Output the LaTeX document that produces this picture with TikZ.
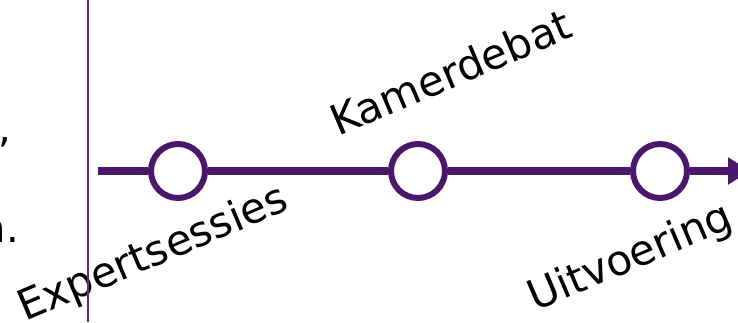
\documentclass[tikz,border=0pt]{standalone}
\usepackage{fontspec}
\setmainfont{DejaVu Sans}
\usetikzlibrary{arrows.meta}
\definecolor{tlpurple}{HTML}{4A176A}
\definecolor{vlpurple}{HTML}{5A2A87}
\begin{document}
\begin{tikzpicture}[x=1pt,y=1pt,
  milestone/.style={circle,draw=tlpurple,line width=6pt,fill=white,minimum size=54pt,inner sep=0pt},
  tline/.style={draw=tlpurple,line width=8pt},
  lbl/.style={anchor=base west,rotate=23,inner sep=0pt,font=\fontsize{42}{46}\selectfont},
  frag/.style={anchor=base east,inner sep=0pt,font=\fontsize{40}{46}\selectfont}]
\useasboundingbox (0,0) rectangle (738,322);
\coordinate (start) at (98,151);
\coordinate (end) at (750,151);
\node[milestone] (m1) at (178,151) {};
\node[milestone] (m2) at (418,151) {};
\node[milestone] (m3) at (660,151) {};
\draw[tline] (start) -- (m1);
\draw[tline] (m1) -- (m2);
\draw[tline] (m2) -- (m3);
\draw[tline,-{Triangle[length=22pt,width=26pt]}] (m3) -- (end);
\node[lbl] (k) at (338,185) {Kamerdebat};
\node[lbl] (e) at (25,0) {Expertsessies};
\node[lbl] (u) at (535,10) {Uitvoering};
\node[frag] (f1) at (11,180) {,};
\node[frag] (f2) at (19,80) {n.};
\coordinate (vtop) at (88,322);
\coordinate (vbot) at (88,0);
\draw[vlpurple,line width=2pt] (vtop) -- (vbot);
\end{tikzpicture}
\end{document}
